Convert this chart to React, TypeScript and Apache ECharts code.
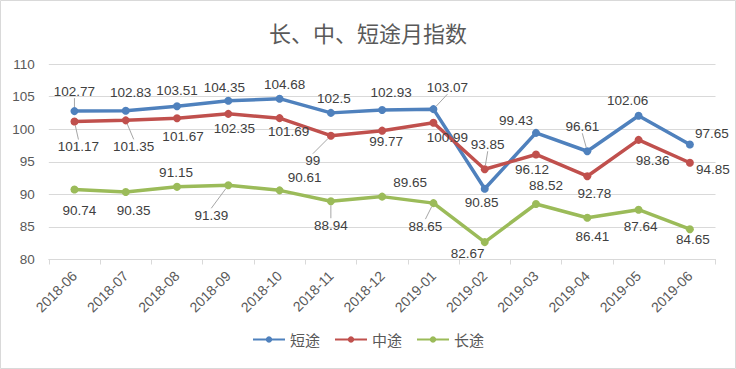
import React, { useEffect, useRef } from "react";
import * as echarts from "echarts";

const categories = ["2018-06", "2018-07", "2018-08", "2018-09", "2018-10", "2018-11", "2018-12", "2019-01", "2019-02", "2019-03", "2019-04", "2019-05", "2019-06"];
const shortTrip = [102.77, 102.83, 103.51, 104.35, 104.68, 102.5, 102.93, 103.07, 90.85, 99.43, 96.61, 102.06, 97.65];
const midTrip = [101.17, 101.35, 101.67, 102.35, 101.69, 99, 99.77, 100.99, 93.85, 96.12, 92.78, 98.36, 94.85];
const longTrip = [90.74, 90.35, 91.15, 91.39, 90.61, 88.94, 89.65, 88.65, 82.67, 88.52, 86.41, 87.64, 84.65];
const seriesNames = ["短途", "中途", "长途"];
const yTicks = { min: 80, max: 110, interval: 5 };

// label placement (offset from point centre) and leader-line flags
const labelOffsets: number[][][] = [
  [[0, -20], [5, -18], [0, -16], [-4, -13], [5, -14], [3, -14], [9, -18], [14, -22], [-3, 14], [-20, -12], [-5, -25], [-11, -15], [22, -11]],
  [[4, 25], [8, 26], [6, 18], [6, 15], [9, 13], [-18, 25], [4, 11], [14, 15], [3, -25], [-4, 15], [7, 17], [14, 21], [23, 7]],
  [[5, 21], [8, 18], [-1, -14], [-17, 30], [25, -13], [0, 24], [28, -14], [-8, 23], [-17, 11], [10, -18], [5, 19], [2, 17], [3, 10]],
];
const leaders: number[][] = [
  [0, 7, 10],
  [0, 1, 5, 8],
  [3, 5, 7],
];

const colors = ["#4F81BD", "#C0504D", "#9BBB59"];

export default function App() {
  const ref = useRef<HTMLDivElement>(null);
  useEffect(() => {
    document.body.style.margin = "0";
    const chart = echarts.init(ref.current!, null, { renderer: "svg" });
    const all = [shortTrip, midTrip, longTrip];
    chart.setOption({
      animation: false,
      backgroundColor: "#ffffff",
      title: {
        text: "长、中、短途月指数",
        left: "center",
        top: 16,
        textStyle: { fontFamily: "Noto Sans CJK SC", fontWeight: "normal", fontSize: 22, color: "#595959" },
      },
      graphic: [
        {
          type: "rect",
          shape: { x: 0.5, y: 0.5, width: 735, height: 368 },
          style: { fill: "none", stroke: "#d9d9d9", lineWidth: 1 },
          silent: true,
        },
      ],
      legend: {
        bottom: 17,
        left: "center",
        itemWidth: 32,
        itemHeight: 8,
        itemGap: 14,
        textStyle: { fontFamily: "Noto Sans CJK SC", fontSize: 15, color: "#595959" },
        data: seriesNames,
      },
      grid: { left: 48.8, right: 20.5, top: 64, bottom: 109.5, containLabel: false },
      xAxis: {
        type: "category",
        data: categories,
        boundaryGap: true,
        axisLine: { lineStyle: { color: "#d9d9d9" } },
        axisTick: { show: true, length: 5, lineStyle: { color: "#d9d9d9" } },
        axisLabel: { rotate: 45, fontSize: 14, color: "#595959", fontFamily: "Liberation Sans", margin: 14 },
      },
      yAxis: {
        type: "value",
        min: yTicks.min,
        max: yTicks.max,
        interval: yTicks.interval,
        axisLine: { show: false },
        axisTick: { show: false },
        splitLine: { lineStyle: { color: "#d9d9d9" } },
        axisLabel: { fontSize: 13.5, color: "#595959", fontFamily: "Liberation Sans", margin: 14 },
      },
      series: all.map((vals, s) => ({
        name: seriesNames[s],
        type: "line",
        color: colors[s],
        symbol: "circle",
        symbolSize: 8,
        lineStyle: { width: 3.5, color: colors[s] },
        itemStyle: { color: colors[s] },
        data: vals.map((v, i) => ({
          value: v,
          labelLine: { show: leaders[s].includes(i) },
        })),
        label: {
          show: true,
          position: "inside",
          fontSize: 13.5,
          fontFamily: "Liberation Sans",
          color: "#404040",
        },
        labelLine: { show: false, lineStyle: { color: "#a6a6a6", width: 1 } },
        labelLayout: (p: any) => {
          const o = labelOffsets[s][p.dataIndex];
          return { dx: o[0], dy: o[1] };
        },
      })),
    });
    return () => chart.dispose();
  }, []);
  return <div ref={ref} style={{ width: 736, height: 369 }} />;
}
